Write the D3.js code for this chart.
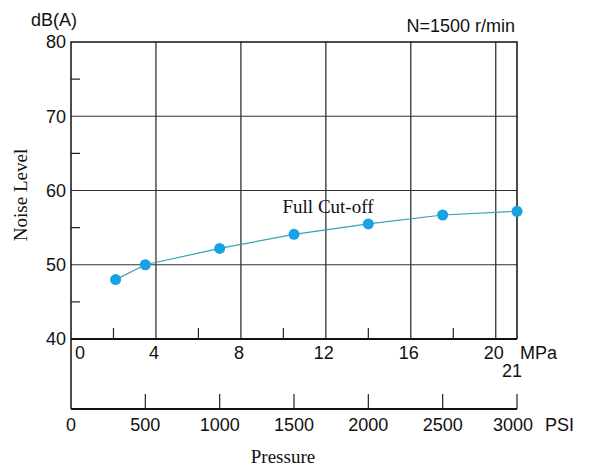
<!DOCTYPE html>
<html>
<head>
<meta charset="utf-8">
<script src="https://cdn.jsdelivr.net/npm/d3@7"></script>
<style>
  body { margin: 0; background: #fff; }
  text { font-family: "Liberation Sans", Arial, sans-serif; }
  .serif { font-family: "Liberation Serif", "Times New Roman", serif; }
</style>
</head>
<body>
<div id="chart"></div>
<script>
// data
const pressurePsi = [300, 500, 1000, 1500, 2000, 2500, 3000];
const noiseDb = [48.0, 50.0, 52.2, 54.1, 55.5, 56.7, 57.2];

const dbTicks = [40, 50, 60, 70, 80];
const dbMinor = [45, 55, 65, 75];
const mpaTicks = [0, 4, 8, 12, 16, 20];
const mpaMinor = [2, 6, 10, 14, 18];
const psiTicks = [0, 500, 1000, 1500, 2000, 2500, 3000];

const W = 590, H = 466;
const plotLeft = 71, plotRight = 517, plotTop = 42, plotBottom = 339, psiLine = 409;
const fs = 18;

const svg = d3.select("#chart").append("svg")
    .attr("width", W)
    .attr("height", H);

const y = d3.scaleLinear().domain([40, 80]).range([plotBottom, plotTop]);
const xMpa = d3.scaleLinear().domain([0, 21]).range([plotLeft, plotRight]);
const xPsi = d3.scaleLinear().domain([0, 3000]).range([plotLeft, plotRight]);

// grid lines
svg.append("g")
    .selectAll("line")
    .data(mpaTicks.filter(d => d > 0))
    .join("line")
    .attr("x1", d => xMpa(d)).attr("x2", d => xMpa(d))
    .attr("y1", plotTop).attr("y2", plotBottom)
    .attr("stroke", "#222").attr("stroke-width", 1.2);

svg.append("g")
    .selectAll("line")
    .data(dbTicks.filter(d => d > 40 && d < 80))
    .join("line")
    .attr("x1", plotLeft).attr("x2", plotRight)
    .attr("y1", d => y(d)).attr("y2", d => y(d))
    .attr("stroke", "#333").attr("stroke-width", 1.2);

// frame
svg.append("path")
    .attr("d", `M${plotLeft},${psiLine}V${plotTop}H${plotRight}V${plotBottom}`)
    .attr("fill", "none").attr("stroke", "#111").attr("stroke-width", 1.5);
svg.append("line")
    .attr("x1", plotLeft).attr("x2", plotRight)
    .attr("y1", plotBottom).attr("y2", plotBottom)
    .attr("stroke", "#111").attr("stroke-width", 2);
svg.append("line")
    .attr("x1", plotLeft).attr("x2", plotRight)
    .attr("y1", psiLine).attr("y2", psiLine)
    .attr("stroke", "#111").attr("stroke-width", 2);

// y labels
svg.append("g")
    .selectAll("text")
    .data(dbTicks)
    .join("text")
    .attr("x", plotLeft - 5)
    .attr("y", d => y(d))
    .attr("dy", "0.36em")
    .attr("text-anchor", "end")
    .attr("font-size", fs)
    .attr("fill", "#111")
    .text(d => d);

// y minor ticks (inward)
svg.append("g")
    .selectAll("line")
    .data(dbMinor)
    .join("line")
    .attr("x1", plotLeft).attr("x2", plotLeft + 9)
    .attr("y1", d => y(d)).attr("y2", d => y(d))
    .attr("stroke", "#222").attr("stroke-width", 1.2);

// MPa minor ticks
svg.append("g")
    .selectAll("line")
    .data(mpaMinor)
    .join("line")
    .attr("x1", d => xMpa(d)).attr("x2", d => xMpa(d))
    .attr("y1", plotBottom).attr("y2", plotBottom - 11)
    .attr("stroke", "#222").attr("stroke-width", 1.2);

// MPa labels
svg.append("g")
    .selectAll("text")
    .data(mpaTicks)
    .join("text")
    .attr("x", d => d === 0 ? xMpa(d) + 9 : xMpa(d) - 2)
    .attr("y", plotBottom + 20)
    .attr("text-anchor", "middle")
    .attr("font-size", fs)
    .attr("fill", "#111")
    .text(d => d);
svg.append("text")
    .attr("x", 520).attr("y", plotBottom + 20)
    .attr("font-size", fs).attr("fill", "#111")
    .text("MPa");
svg.append("text")
    .attr("x", xMpa(21) - 5).attr("y", plotBottom + 38)
    .attr("text-anchor", "middle")
    .attr("font-size", fs).attr("fill", "#111")
    .text("21");

// PSI ticks and labels
svg.append("g")
    .selectAll("line")
    .data(psiTicks.filter(d => d > 0))
    .join("line")
    .attr("x1", d => xPsi(d)).attr("x2", d => xPsi(d))
    .attr("y1", psiLine).attr("y2", psiLine - 15)
    .attr("stroke", "#222").attr("stroke-width", 1.2);

svg.append("g")
    .selectAll("text")
    .data(psiTicks)
    .join("text")
    .attr("x", d => d === 3000 ? xPsi(d) - 4 : xPsi(d))
    .attr("y", psiLine + 22)
    .attr("text-anchor", "middle")
    .attr("font-size", fs)
    .attr("fill", "#111")
    .text(d => d);
svg.append("text")
    .attr("x", 545).attr("y", psiLine + 22)
    .attr("font-size", fs).attr("fill", "#111")
    .text("PSI");

// titles
svg.append("text")
    .attr("x", 31).attr("y", 26)
    .attr("font-size", fs).attr("fill", "#111")
    .text("dB(A)");
svg.append("text")
    .attr("x", 515).attr("y", 32)
    .attr("text-anchor", "end")
    .attr("font-size", fs).attr("fill", "#111")
    .text("N=1500 r/min");
svg.append("text")
    .attr("class", "serif")
    .attr("x", 283).attr("y", 463)
    .attr("text-anchor", "middle")
    .attr("font-size", 19).attr("fill", "#111")
    .text("Pressure");
svg.append("text")
    .attr("class", "serif")
    .attr("transform", "translate(27,195) rotate(-90)")
    .attr("text-anchor", "middle")
    .attr("font-size", 19).attr("fill", "#111")
    .text("Noise Level");

// series
const pts = pressurePsi.map((p, i) => [p, noiseDb[i]]);
svg.append("path")
    .datum(pts)
    .attr("d", d3.line().x(d => xPsi(d[0])).y(d => y(d[1])))
    .attr("fill", "none")
    .attr("stroke", "#3a9fb8")
    .attr("stroke-width", 1.2);
svg.append("g")
    .selectAll("circle")
    .data(pts)
    .join("circle")
    .attr("cx", d => xPsi(d[0]))
    .attr("cy", d => y(d[1]))
    .attr("r", 5.5)
    .attr("fill", "#17a2e3");

svg.append("text")
    .attr("class", "serif")
    .attr("x", 328).attr("y", 213)
    .attr("text-anchor", "middle")
    .attr("font-size", 19).attr("fill", "#111")
    .text("Full Cut-off");
</script>
</body>
</html>
